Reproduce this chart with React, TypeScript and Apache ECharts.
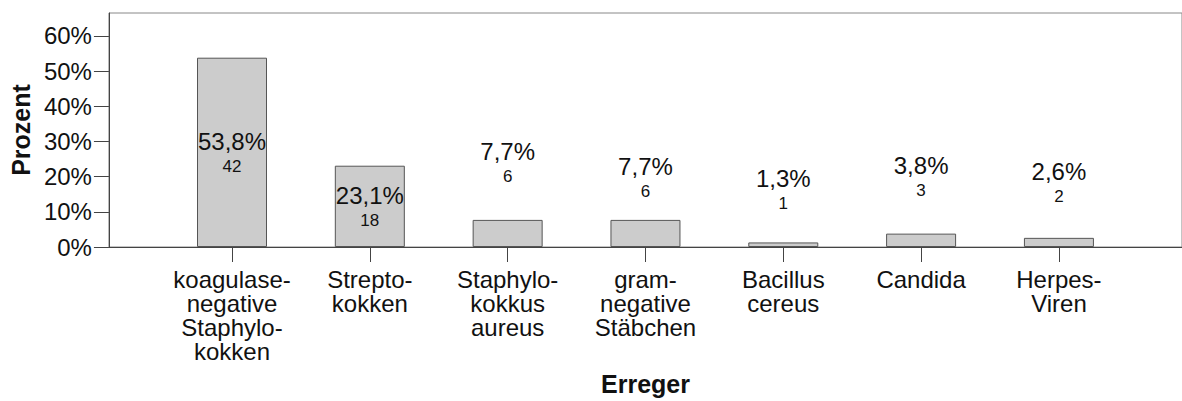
import React, { useEffect, useRef } from "react";
import * as echarts from "echarts";

const CATEGORIES = [
  "koagulase-\nnegative\nStaphylo-\nkokken",
  "Strepto-\nkokken",
  "Staphylo-\nkokkus\naureus",
  "gram-\nnegative\nStäbchen",
  "Bacillus\ncereus",
  "Candida",
  "Herpes-\nViren",
];
const PERCENT = [53.8, 23.1, 7.7, 7.7, 1.3, 3.8, 2.6];
const COUNTS = [42, 18, 6, 6, 1, 3, 2];
const Y_TICKS = [0, 10, 20, 30, 40, 50, 60];

// label placement (style only)
const LABEL_POSITION = ["inside", "inside", "top", "top", "top", "top", "top"];
const LABEL_DISTANCE = [0, 0, 33, 18, 28, 33, 31];

const FONT = "'Liberation Sans', Arial, Helvetica, sans-serif";

export default function App() {
  const ref = useRef<HTMLDivElement>(null);
  useEffect(() => {
    document.body.style.margin = "0";
    const chart = echarts.init(ref.current!, null, { renderer: "svg" });
    const idx = CATEGORIES.map((_, i) => i);
    chart.setOption({
      animation: false,
      textStyle: { fontFamily: FONT },
      grid: {
        left: 106,
        top: 13,
        width: 1081,
        height: 237,
        show: true,
        borderColor: "#888",
        borderWidth: 1,
        backgroundColor: "transparent",
      },
      xAxis: {
        type: "value",
        min: -0.893,
        max: 6.893,
        axisLine: { show: true, onZero: false, lineStyle: { color: "#444", width: 1 } },
        axisTick: { show: true, length: 15, customValues: idx, lineStyle: { color: "#444" } },
        axisLabel: {
          customValues: idx,
          formatter: (v: number) => CATEGORIES[Math.round(v)] ?? "",
          margin: 20,
          fontSize: 24,
          lineHeight: 24,
          color: "#111",
          fontFamily: FONT,
        },
        splitLine: { show: false },
        name: "Erreger",
        nameLocation: "middle",
        nameGap: 124,
        nameTextStyle: { fontWeight: "bold", fontSize: 25, color: "#111", fontFamily: FONT },
      },
      yAxis: {
        type: "value",
        min: 0,
        max: 66.5,
        axisLine: { show: true, onZero: false, lineStyle: { color: "#444", width: 1 } },
        axisTick: { show: true, length: 15, customValues: Y_TICKS, lineStyle: { color: "#444" } },
        axisLabel: {
          customValues: Y_TICKS,
          formatter: (v: number) => `${v}%`,
          margin: 17,
          fontSize: 24,
          color: "#111",
          fontFamily: FONT,
        },
        splitLine: { show: false },
        name: "Prozent",
        nameLocation: "middle",
        nameRotate: 90,
        nameGap: 72,
        nameTextStyle: { fontWeight: "bold", fontSize: 25, color: "#111", fontFamily: FONT },
      },
      series: [
        {
          type: "bar",
          barWidth: 70,
          itemStyle: { color: "#cccccc", borderColor: "#555", borderWidth: 1 },
          label: {
            show: true,
            color: "#111",
            fontFamily: FONT,
            offset: [0, 2],
            formatter: (p: any) =>
              `{a|${PERCENT[p.dataIndex].toFixed(1).replace(".", ",")}%}\n{b|${COUNTS[p.dataIndex]}}`,
            rich: {
              a: { fontSize: 24, lineHeight: 25, color: "#111", fontFamily: FONT, align: "center" },
              b: { fontSize: 17, lineHeight: 25, color: "#111", fontFamily: FONT, align: "center" },
            },
          },
          data: PERCENT.map((v, i) => ({
            value: [i, v],
            label: { position: LABEL_POSITION[i], distance: LABEL_DISTANCE[i] },
          })),
        },
      ],
    });
    return () => chart.dispose();
  }, []);
  return <div ref={ref} style={{ width: 1182, height: 401 }} />;
}
